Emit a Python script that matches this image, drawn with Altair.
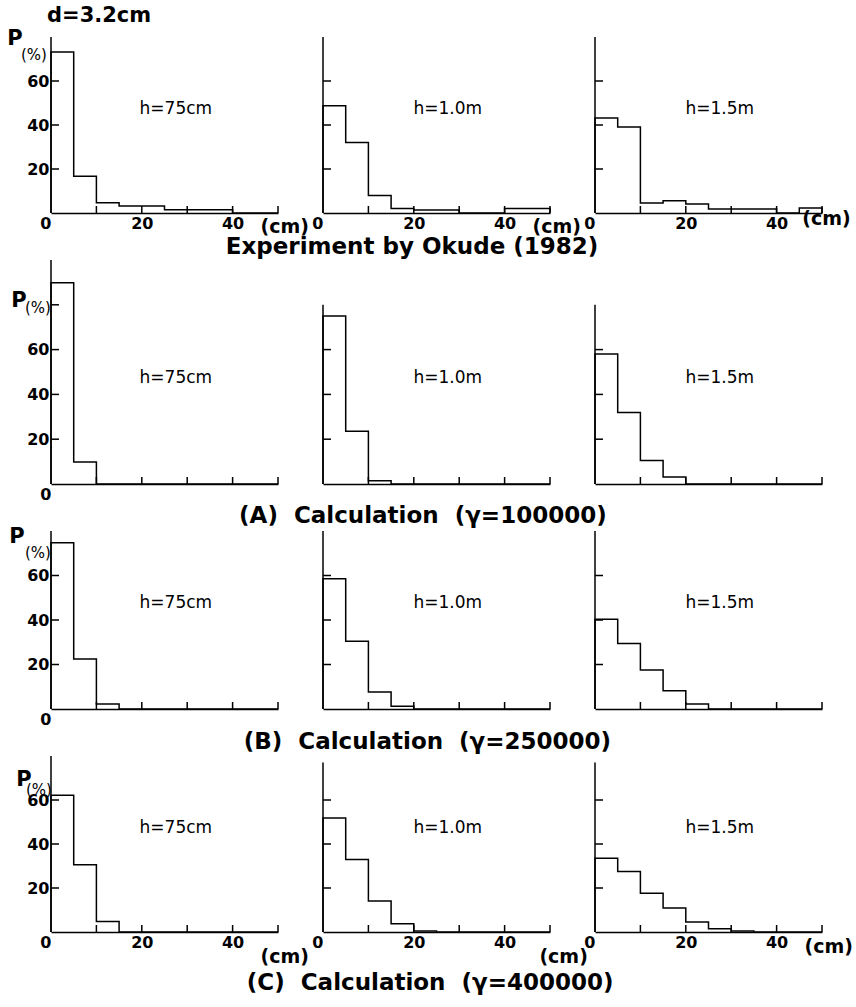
import altair as alt
import pandas as pd

# ---------------- data ----------------
BIN_EDGES = [0, 5, 10, 15, 20, 25, 30, 35, 40, 45]   # left edges of 5 cm bins
X_END = 50
X_TICKS = [10, 20, 30, 40, 50]
PANEL_LABELS = ["h=75cm", "h=1.0m", "h=1.5m"]

# Row 0: Experiment by Okude (1982)
exp_h075 = [73.2, 16.7, 4.7, 3.2, 3.2, 1.5, 1.5, 1.5, 0, 0]
exp_h100 = [48.8, 32.0, 7.9, 2.1, 1.4, 1.4, 0, 0, 2.1, 2.1]
exp_h150 = [43.2, 39.1, 4.5, 5.6, 4.1, 1.8, 1.8, 1.8, 0, 2.3]
# Row 1: (A) gamma = 100000
a_h075 = [89.8, 9.8, 0, 0, 0, 0, 0, 0, 0, 0]
a_h100 = [75.0, 23.5, 1.5, 0, 0, 0, 0, 0, 0, 0]
a_h150 = [58.0, 31.9, 10.5, 3.1, 0, 0, 0, 0, 0, 0]
# Row 2: (B) gamma = 250000
b_h075 = [74.7, 22.5, 2.2, 0, 0, 0, 0, 0, 0, 0]
b_h100 = [58.5, 30.5, 7.6, 1.2, 0, 0, 0, 0, 0, 0]
b_h150 = [40.3, 29.4, 17.5, 8.2, 2.2, 0, 0, 0, 0, 0]
# Row 3: (C) gamma = 400000
c_h075 = [62.2, 30.6, 4.8, 0, 0, 0, 0, 0, 0, 0]
c_h100 = [51.8, 33.0, 14.1, 3.7, 0.5, 0, 0, 0, 0, 0]
c_h150 = [33.5, 27.5, 17.6, 10.9, 4.6, 1.5, 0.5, 0, 0, 0]

VALUES = [
    [exp_h075, exp_h100, exp_h150],
    [a_h075, a_h100, a_h150],
    [b_h075, b_h100, b_h150],
    [c_h075, c_h100, c_h150],
]
ROW_TITLES = [
    "Experiment by Okude (1982)",
    "(A)\u00a0\u00a0Calculation\u00a0\u00a0(\u03b3=100000)",
    "(B)\u00a0\u00a0Calculation\u00a0\u00a0(\u03b3=250000)",
    "(C)\u00a0\u00a0Calculation\u00a0\u00a0(\u03b3=400000)",
]
Y_LABELS = [20, 40, 60]
Y_DOMAIN_MAX = [80, 100, 80, 80]
Y_AXIS_TOP = [[80, 80, 80], [100, 80, 80], [80, 80, 80], [80, 77, 77]]
Y_TICKS = [[[20, 40, 60]] * 3,
           [[20, 40, 60, 80], [20, 40, 60], [20, 40, 60]],
           [[20, 40, 60]] * 3,
           [[20, 40, 60]] * 3]

# ---------------- layout / style ----------------
W = 227
HEIGHTS = [176, 224, 178, 176]
FONT = "DejaVu Sans"
LW = 1.5

LABEL_POS = (27.5, 47.5)
P_POS = [(79, 72, -36, -17), (81.7, 78.6, -32, -13), (77.5, 70, -34, -13), (69, 64.5, -27, -12)]
TITLE_POS = [(19.6, -15.5), (22, -14.3), (23, -15), (23.6, -23)]
CM_POS = {0: [(51.5, 14), (51.5, 14), (51, 6)], 3: [(51.5, 25), (53, 25), (51.5, 15)]}


def panel(r, c):
    vals = VALUES[r][c]
    H = HEIGHTS[r]
    xs = alt.Scale(domain=[0, X_END], nice=False, zero=False)
    ys = alt.Scale(domain=[0, Y_DOMAIN_MAX[r]], nice=False, zero=False)

    if r in (0, 3):
        xvals = [0, 20, 40]
    elif c == 0:
        xvals = [0]
    else:
        xvals = None
    axis_kw = dict(ticks=False, domain=True, domainColor="black", domainWidth=LW,
                   grid=False, title=None)
    if xvals:
        xaxis = alt.Axis(values=xvals, labels=True, labelFont=FONT, labelFontSize=16,
                         labelFontWeight="bold", labelColor="black", labelPadding=2,
                         labelFlush=False, labelOverlap=False, labelBaseline="top",
                         labelAlign={"condition": {"test": "datum.value == 0", "value": "right"},
                                     "value": "center"},
                         **axis_kw)
    else:
        xaxis = alt.Axis(labels=False, **axis_kw)
    if c == 0:
        yaxis = alt.Axis(values=Y_LABELS, ticks=False, domain=False, grid=False, title=None,
                         labelFont=FONT, labelFontSize=16, labelFontWeight="bold",
                         labelColor="black", labelPadding=2)
    else:
        yaxis = None

    def X(f):
        return alt.X(f, scale=xs, axis=xaxis)

    def Y(f):
        return alt.Y(f, scale=ys, axis=yaxis)

    def text_layer(x, y, t, **mark):
        return alt.Chart(pd.DataFrame({"x": [x], "y": [y], "t": [t]})).mark_text(
            font=FONT, color="black", baseline="middle", **mark).encode(
            x=X("x:Q"), y=Y("y:Q"), text="t:N")

    px = [0] + BIN_EDGES + [X_END, X_END]
    py = [0] + vals + [vals[-1], 0]
    step = pd.DataFrame({"x": px, "y": py, "i": list(range(len(px)))})

    layers = []
    layers.append(alt.Chart(step).mark_line(interpolate="step-after", color="black",
                                            strokeWidth=LW).encode(
        x=X("x:Q"), y=Y("y:Q"), order="i:Q"))
    # y axis line
    layers.append(alt.Chart(pd.DataFrame({"y": [0], "y1": [Y_AXIS_TOP[r][c]]})).mark_rule(
        color="black", strokeWidth=LW).encode(
        x=alt.value(0), y=Y("y:Q"), y2="y1:Q"))
    # inward y ticks
    layers.append(alt.Chart(pd.DataFrame({"y": Y_TICKS[r][c]})).mark_rule(
        color="black", strokeWidth=LW).encode(
        x=alt.value(0), x2=alt.value(8), y=Y("y:Q")))
    # inward x ticks
    layers.append(alt.Chart(pd.DataFrame({"x": X_TICKS})).mark_rule(
        color="black", strokeWidth=LW).encode(
        x=X("x:Q"), y=alt.value(H), y2=alt.value(H - 7)))
    # h label
    layers.append(text_layer(LABEL_POS[0], LABEL_POS[1], PANEL_LABELS[c],
                             fontSize=17, align="center"))
    if r in CM_POS:
        cx, cdy = CM_POS[r][c]
        layers.append(text_layer(cx, 0, "(cm)", fontSize=19, fontWeight="bold",
                                 align="center", dy=cdy))
    if c == 0:
        py1, py2, dx1, dx2 = P_POS[r]
        layers.append(text_layer(0, py1, "P", fontSize=21, fontWeight="bold",
                                 align="center", dx=dx1))
        layers.append(text_layer(0, py2, "(%)", fontSize=15, align="center", dx=dx2))
    if r == 0 and c == 0:
        layers.append(text_layer(0, 89.5, "d=3.2cm", fontSize=21, fontWeight="bold",
                                 align="left", dx=-4))
    if c == 1:
        tx, ty = TITLE_POS[r]
        layers.append(text_layer(tx, ty, ROW_TITLES[r], fontSize=23,
                                 fontWeight="bold", align="center"))
    return alt.layer(*layers).properties(width=W, height=H)


panels = [panel(r, c) for r in range(4) for c in range(3)]
chart = alt.concat(*panels, columns=3, spacing={"row": 47, "column": 45},
                   bounds="flush").properties(
    padding={"left": 7, "top": 5, "right": 0, "bottom": 0},
    background="white",
).configure_view(strokeWidth=0, stroke=None).configure_axis(grid=False)

chart.save("out.html", embed_options={"renderer": "svg", "actions": False})
